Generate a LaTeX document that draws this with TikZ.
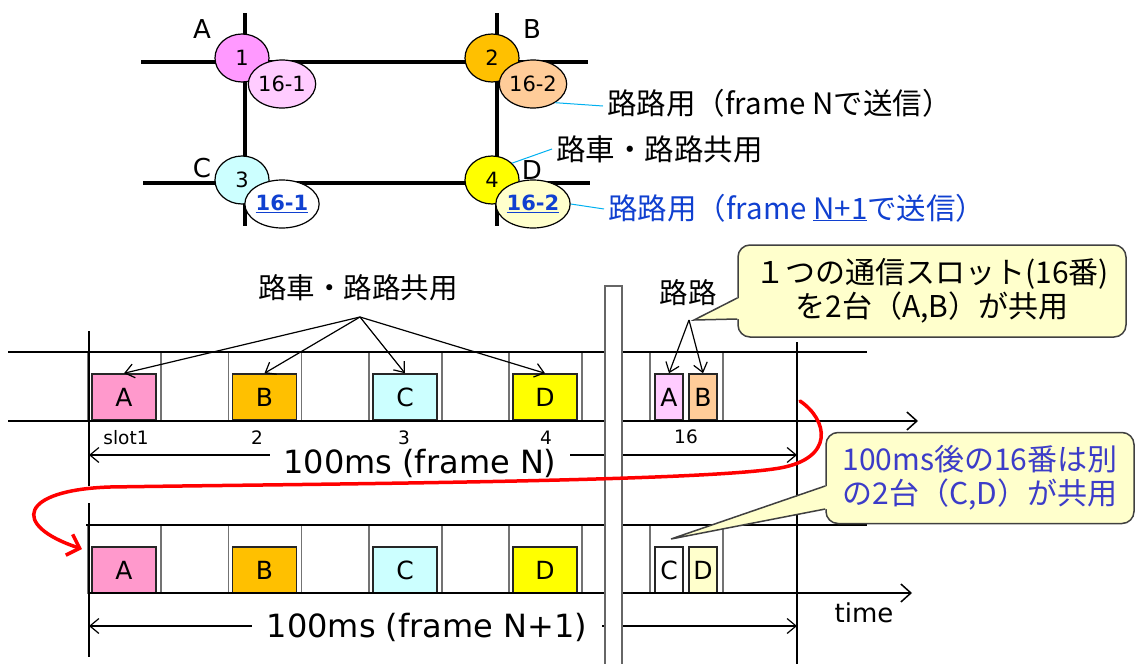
\documentclass[tikz,border=0pt]{standalone}
\usepackage{fontspec}
\setmainfont{DejaVu Sans}
\newfontfamily\jp{Noto Sans CJK JP}
\usetikzlibrary{shapes.geometric,arrows.meta}

\definecolor{carA}{HTML}{FF99FF}
\definecolor{subA}{HTML}{FFCCFF}
\definecolor{carB}{HTML}{FFC000}
\definecolor{subB}{HTML}{FFCC99}
\definecolor{carC}{HTML}{CCFFFF}
\definecolor{carD}{HTML}{FFFF00}
\definecolor{subD}{HTML}{FFFFCC}
\definecolor{pktA}{HTML}{FF99CC}
\definecolor{leadblue}{HTML}{00B0F0}
\definecolor{txtblue}{HTML}{1040D0}
\definecolor{callblue}{HTML}{3C3CC8}
\definecolor{callfill}{HTML}{FFFFCC}

\newcommand{\fsz}[1]{\fontsize{#1}{#1}\selectfont}

\tikzset{
  road/.style={line width=4pt},
  car/.style={ellipse,draw,line width=1.2pt,fill=#1,minimum width=54pt,
    minimum height=48pt,inner sep=0pt,font=\fsz{21}},
  leader/.style={draw=leadblue,line width=1pt},
  slotbox/.style={draw=black!55,line width=1.5pt},
  pkt/.style={draw=black!85,line width=1.5pt,fill=#1,minimum width=64pt,
    minimum height=46pt,inner sep=0pt,font=\fsz{25}},
  halfpkt/.style={pkt=#1,minimum width=28pt},
  dim/.style={line width=1.2pt,{Straight Barb[length=9pt,width=15pt]}-{Straight Barb[length=9pt,width=15pt]}},
  fan/.style={line width=1.2pt,-{Straight Barb[length=9pt,width=14pt]}},
  axis/.style={line width=1.5pt,-{Straight Barb[length=10pt,width=18pt]}},
  callbox/.style={draw=black!75,line width=1.5pt,fill=callfill,rounded corners=12pt,
    inner sep=0pt,align=center,font=\jp\fontsize{30}{34}\selectfont}
}

\begin{document}
\begin{tikzpicture}[x=1pt,y=-1pt]
\useasboundingbox (0,0) rectangle (1136,664);

% roads
\draw[road] (141,62) -- (588,62);
\draw[road] (143,183) -- (590,183);
\draw[road] (245,13) -- (245,226);
\draw[road] (497,13) -- (497,226);

\node[car=carA] (c1) at (242,58) {1};
\node[car=subA] (s1) at (282,84) {16-1};
\node[car=carB] (c2) at (492,58) {2};
\node[car=subB] (s2) at (533,84) {16-2};
\node[car=carC] (c3) at (242,180) {3};
\node[car=white] (s3) at (282,204) {\color{txtblue}\bfseries\underline{16-1}};
\node[car=carD] (c4) at (492,180) {4};
\node[car=subD] (s4) at (533,204) {\color{txtblue}\bfseries\underline{16-2}};

\node[font=\fsz{26}] (la) at (202,29) {A};
\node[font=\fsz{26}] (lb) at (532,29) {B};
\node[font=\fsz{26}] (lc) at (202,168) {C};
\node[font=\fsz{26}] (ld) at (532,170) {D};

\node[anchor=west,inner sep=4pt,font=\jp\fsz{29.5}] (t1) at (603,103) {路路用（frame Nで送信）};
\node[anchor=west,inner sep=4pt,font=\jp\fsz{29.5}] (t2) at (552,149) {路車・路路共用};
\node[anchor=west,inner sep=4pt,font=\jp\fsz{29.5},text=txtblue] (t3) at (604,208) {路路用（frame \underline{N+1}で送信）};
\draw[leader] (s2.-40) -- ([yshift=-3pt]t1.west);
\draw[leader] (c4.40) -- (t2.west);
\draw[leader] (s4.east) -- ([yshift=-1pt]t3.west);

% frame N
\foreach \x/\c/\l in {88/pktA/A,228.5/carB/B,369/carC/C,509/carD/D}{
  \draw[slotbox] (\x,352) rectangle ++(73,69);
  \node[pkt=\c] (n\l) at (\x+36,397) {\l};
}
\draw[slotbox] (650,352) rectangle (723,421);
\node[halfpkt=subA] (n16a) at (669,397) {A};
\node[halfpkt=subB] (n16b) at (703,397) {B};
\draw[line width=1.5pt] (8,352) -- (867,352);
\draw[axis] (8,421) -- (918,421);

\node[font=\fsz{18.5}] (sl1) at (126,438) {slot1};
\node[font=\fsz{18.5}] (sl2) at (257,438) {2};
\node[font=\fsz{18.5}] (sl3) at (404,438) {3};
\node[font=\fsz{18.5}] (sl4) at (546,438) {4};
\node[font=\fsz{18.5}] (sl16) at (686,437) {16};

\node[font=\jp\fsz{28.5}] (share) at (358,288) {路車・路路共用};
\coordinate (f1) at (360,317);
\foreach \l in {A,B,C,D}
  \draw[fan] (f1) -- (n\l.north);
\node[font=\jp\fsz{28.5}] (rr) at (688,293) {路路};
\coordinate (f2) at (689,320);
\draw[fan] (f2) -- (n16a.north);
\draw[fan] (f2) -- (n16b.north);

% frame N+1
\foreach \x/\c/\l in {88/pktA/A,228.5/carB/B,369/carC/C,509/carD/D}{
  \draw[slotbox] (\x,525) rectangle ++(73,68);
  \node[pkt=\c] (m\l) at (\x+36,570) {\l};
}
\draw[slotbox] (650,525) rectangle (723,593);
\node[halfpkt=white] (m16c) at (669,570) {C};
\node[halfpkt=subD] (m16d) at (703,570) {D};
\draw[line width=1.5pt] (86,525) -- (867,525);
\draw[axis] (88,593) -- (912,593);
\node[font=\fsz{26}] (tm) at (864,613) {time};

% frame borders
\draw[line width=1.2pt] (89,331) -- (89,486);
\draw[line width=1.2pt] (89,503) -- (89,657);
\draw[line width=1.2pt] (797,342) -- (797,664);

\coordinate (d1l) at (89,455);
\coordinate (d1r) at (797,455);
\draw[dim] (d1l) -- (d1r);
\node[fill=white,inner xsep=13pt,inner ysep=1pt,font=\fsz{32}] (fN) at (420,463) {100ms (frame N)};
\coordinate (d2l) at (89,626);
\coordinate (d2r) at (797,626);
\draw[dim] (d2l) -- (d2r);
\node[fill=white,inner xsep=15pt,inner ysep=1pt,font=\fsz{32}] (fN1) at (427,627) {100ms (frame N+1)};

% separator bar
\draw[black!60,line width=1.5pt,fill=white] (605,286) rectangle (622,670);

% red curve
\draw[red,line width=3.5pt,line cap=round,-{Straight Barb[length=11pt,width=22pt]}]
  (800,401) .. controls (828,420) and (835,458) .. (780,468)
  .. controls (700,482) and (300,484) .. (110,487)
  .. controls (20,490) and (10,525) .. (82,549);

% callouts
\node[callbox,minimum width=388pt,minimum height=92pt] (cb1) at (932,291)
  {１つの通信スロット(16番)\\を2台（A,B）が共用};
\coordinate (p1) at (694,320);
\fill[callfill] (p1) -- ([xshift=2pt]cb1.west |- 0,298) -- ([xshift=2pt]cb1.west |- 0,319) -- cycle;
\draw[black!75,line width=1.5pt] (cb1.west |- 0,298) -- (p1) -- (cb1.west |- 0,319);

\node[callbox,minimum width=308pt,minimum height=91pt,text=callblue] (cb2) at (980,478)
  {100ms後の16番は別\\の2台（C,D）が共用};
\coordinate (p2) at (671,539);
\fill[callfill] (p2) -- ([xshift=2pt]cb2.west |- 0,486) -- ([xshift=2pt]cb2.west |- 0,509) -- cycle;
\draw[black!75,line width=1.5pt] (cb2.west |- 0,486) -- (p2) -- (cb2.west |- 0,509);
\end{tikzpicture}
\end{document}
